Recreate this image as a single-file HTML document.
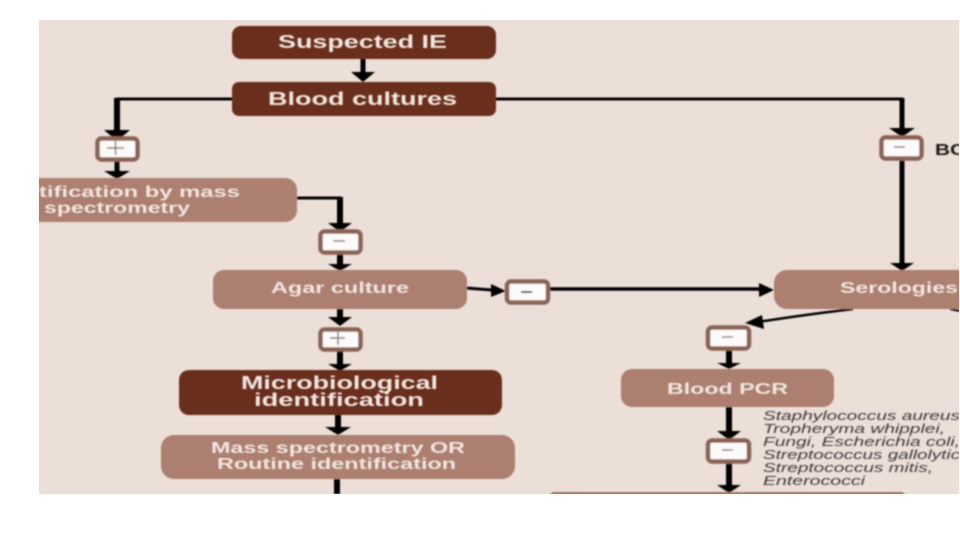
<!DOCTYPE html>
<html>
<head>
<meta charset="utf-8">
<style>
html,body{margin:0;padding:0;background:#fff;width:960px;height:540px;overflow:hidden}
svg{display:block}
text{font-family:"Liberation Sans",sans-serif}
.w{fill:#f1e6e0;font-weight:bold;text-anchor:start}
.i{fill:#413936;font-style:italic;font-size:13px}
</style>
</head>
<body>
<svg width="960" height="540" viewBox="0 0 960 540" xmlns="http://www.w3.org/2000/svg">
<defs>
<filter id="b" x="-5%" y="-5%" width="110%" height="110%"><feGaussianBlur stdDeviation="0.7"/></filter>
<clipPath id="c"><rect x="39" y="20" width="920" height="474"/></clipPath>
</defs>
<rect x="39" y="20" width="920" height="474" fill="#ecdfd8"/>
<g clip-path="url(#c)" filter="url(#b)">
<!-- connectors -->
<g fill="none" stroke="#050302">
<path d="M363 58V74" stroke-width="5"/>
<path d="M232 99H116" stroke-width="3"/>
<path d="M117 98V131" stroke-width="6"/>
<path d="M117 160V172" stroke-width="5"/>
<path d="M297 198H341" stroke-width="3"/>
<path d="M340 197V224" stroke-width="6"/>
<path d="M340 253V265" stroke-width="6"/>
<path d="M340 307V320" stroke-width="6"/>
<path d="M340 350V364" stroke-width="6"/>
<path d="M338 414V428" stroke-width="6"/>
<path d="M337 478V494" stroke-width="6"/>
<path d="M495 99H903" stroke-width="3"/>
<path d="M902 98V131" stroke-width="5"/>
<path d="M902 158V264" stroke-width="5"/>
<path d="M466 288L492 290" stroke-width="3"/>
<path d="M549 289H762" stroke-width="3.500"/>
<path d="M853 309Q810 314 758 322" stroke-width="2.500"/>
<path d="M950 309L960 311" stroke-width="2"/>
<path d="M729 348V364" stroke-width="6"/>
<path d="M729 406V432" stroke-width="6"/>
<path d="M729 462V486" stroke-width="6"/>
</g>
<!-- arrowheads -->
<g fill="#050302">
<path d="M351 72H375L363 82Z"/>
<path d="M104 130H130L117 141Z"/>
<path d="M104 171H130L117 179Z"/>
<path d="M328 223H352L340 232Z"/>
<path d="M328 264H352L340 271Z"/>
<path d="M328 317H352L340 326Z"/>
<path d="M328 364H352L340 371Z"/>
<path d="M325 427H351L338 435Z"/>
<path d="M889 128H915L902 137Z"/>
<path d="M890 263H914L902 271Z"/>
<path d="M491 284L506 291L491 297Z"/>
<path d="M759 283L774 290L759 297Z"/>
<path d="M745 323L762 315L764 329Z"/>
<path d="M717 363H741L729 369Z"/>
<path d="M717 431H741L729 440Z"/>
<path d="M717 485H741L729 493Z"/>
</g>
<!-- boxes -->
<rect x="232" y="26" width="264" height="33" rx="9" fill="#6b2f1b"/>
<rect x="232" y="82" width="264" height="34" rx="7" fill="#6b2f1b"/>
<rect x="0" y="178" width="297" height="44" rx="12" fill="#ac7f70"/>
<rect x="213" y="270" width="254" height="39" rx="11" fill="#ac7f70"/>
<rect x="179" y="370" width="323" height="45" rx="10" fill="#6b2f1b"/>
<rect x="161" y="435" width="354" height="44" rx="13" fill="#ac7f70"/>
<rect x="774" y="270" width="230" height="39" rx="13" fill="#ac7f70"/>
<rect x="621" y="369" width="213" height="38" rx="11" fill="#ac7f70"/>
<rect x="550" y="492" width="355" height="8" rx="4" fill="#a57868"/>
<!-- sign boxes -->
<g fill="#fdfbfa" stroke="#8b6457" stroke-width="4.500">
<rect x="97.500" y="138.500" width="40" height="21" rx="4"/>
<rect x="320.500" y="231.500" width="40" height="21" rx="4"/>
<rect x="320.500" y="329.500" width="40" height="20" rx="4"/>
<rect x="507" y="281.500" width="41" height="21" rx="4"/>
<rect x="708" y="327.500" width="41" height="21" rx="4"/>
<rect x="708" y="440.500" width="41" height="21" rx="4"/>
<rect x="881.500" y="137.500" width="40" height="21" rx="4"/>
</g>
<g stroke="#8a817c" stroke-width="1.500" fill="none">
<path d="M107 148H124M115.500 141V155"/>
<path d="M333 241H345"/>
<path d="M330 338H345M338 331V345"/>
<path d="M521 292H532" stroke="#555" stroke-width="2"/>
<path d="M722 337H733"/>
<path d="M722 450H733"/>
<path d="M894 147H905"/>
</g>
</g>
<g clip-path="url(#c)" filter="url(#b)">
<g class="w">
<text x="278" y="48" font-size="18" textLength="169" lengthAdjust="spacingAndGlyphs">Suspected IE</text>
<text x="268" y="105" font-size="18" textLength="189" lengthAdjust="spacingAndGlyphs">Blood cultures</text>
<text x="39" y="197" font-size="16" textLength="201" lengthAdjust="spacingAndGlyphs">tification by mass</text>
<text x="44" y="213" font-size="16" textLength="146" lengthAdjust="spacingAndGlyphs">spectrometry</text>
<text x="271" y="293" font-size="16" textLength="138" lengthAdjust="spacingAndGlyphs">Agar culture</text>
<text x="840" y="293" font-size="16" textLength="118" lengthAdjust="spacingAndGlyphs">Serologies</text>
<text x="241" y="389" font-size="18" textLength="197" lengthAdjust="spacingAndGlyphs">Microbiological</text>
<text x="254" y="406" font-size="18" textLength="170" lengthAdjust="spacingAndGlyphs">identification</text>
<text x="211" y="453" font-size="16" textLength="254" lengthAdjust="spacingAndGlyphs">Mass spectrometry OR</text>
<text x="217" y="469" font-size="16" textLength="239" lengthAdjust="spacingAndGlyphs">Routine identification</text>
<text x="667" y="394" font-size="16" textLength="121" lengthAdjust="spacingAndGlyphs">Blood PCR</text>
</g>
<text x="935" y="155" font-size="16" font-weight="bold" fill="#1d1715" textLength="30" lengthAdjust="spacingAndGlyphs">BC</text>
<g class="i">
<text x="763" y="420" textLength="197" lengthAdjust="spacingAndGlyphs">Staphylococcus aureus</text>
<text x="763" y="433" textLength="182" lengthAdjust="spacingAndGlyphs">Tropheryma whipplei,</text>
<text x="763" y="446" textLength="197" lengthAdjust="spacingAndGlyphs">Fungi, Escherichia coli,</text>
<text x="763" y="459" textLength="197" lengthAdjust="spacingAndGlyphs">Streptococcus gallolytic</text>
<text x="763" y="472" textLength="170" lengthAdjust="spacingAndGlyphs">Streptococcus mitis,</text>
<text x="763" y="485" textLength="102" lengthAdjust="spacingAndGlyphs">Enterococci</text>
</g>
</g>
</svg>
</body>
</html>
